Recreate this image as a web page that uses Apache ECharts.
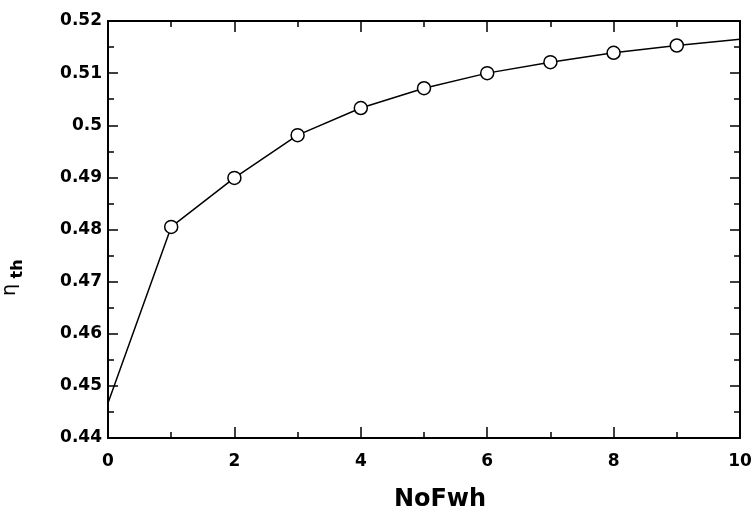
<!DOCTYPE html>
<html>
<head>
<meta charset="utf-8">
<script src="https://cdn.jsdelivr.net/npm/echarts@6/dist/echarts.min.js"></script>
<style>html,body{margin:0;padding:0;background:#fff}#c{width:755px;height:518px}</style>
</head>
<body>
<div id="c"></div>
<script>
const xValues = [0, 1, 2, 3, 4, 5, 6, 7, 8, 9, 10];
const etaValues = [0.4467, 0.4805, 0.4899, 0.4981, 0.5033, 0.5071, 0.5100, 0.5121, 0.5139, 0.5153, 0.5165];
const xTitle = 'NoFwh';
const yTitleMain = 'η';
const yTitleSub = 'th';

const chart = echarts.init(document.getElementById('c'), null, {renderer: 'canvas'});
const FONT = '"DejaVu Sans", sans-serif';
const axisLine = {show: true, onZero: false, lineStyle: {color: '#000', width: 2}};
const baseX = {
  type: 'value', min: 0, max: 10, interval: 2,
  axisLine: axisLine,
  axisTick: {show: true, inside: true, length: 11, lineStyle: {color: '#000', width: 1.5}},
  minorTick: {show: true, splitNumber: 2, length: 6, lineStyle: {color: '#000', width: 1.5}},
  splitLine: {show: false},
  minorSplitLine: {show: false}
};
const baseY = {
  type: 'value', min: 0.44, max: 0.52, interval: 0.01,
  axisLine: axisLine,
  axisTick: {show: true, inside: true, length: 10, lineStyle: {color: '#000', width: 1.5}},
  minorTick: {show: true, splitNumber: 2, length: 6, lineStyle: {color: '#000', width: 1.5}},
  splitLine: {show: false},
  minorSplitLine: {show: false}
};
const lastIdx = xValues.length - 1;
chart.setOption({
  animation: false,
  backgroundColor: '#fff',
  grid: {left: 108, top: 21, right: 15, bottom: 80, containLabel: false},
  xAxis: [
    Object.assign({}, baseX, {
      position: 'bottom',
      axisLabel: {show: true, color: '#000', fontFamily: FONT, fontWeight: 'bold', fontSize: 17, margin: 15},
      name: xTitle, nameLocation: 'middle', nameGap: 62,
      nameTextStyle: {color: '#000', fontFamily: FONT, fontWeight: 'bold', fontSize: 24, verticalAlign: 'middle', padding: [0, 0, 0, 32]}
    }),
    Object.assign({}, baseX, {position: 'top', axisLabel: {show: false}})
  ],
  yAxis: [
    Object.assign({}, baseY, {
      position: 'left',
      axisLabel: {show: true, color: '#000', fontFamily: FONT, fontWeight: 'bold', fontSize: 17, margin: 6,
        formatter: v => String(+v.toFixed(2))}
    }),
    Object.assign({}, baseY, {position: 'right', axisLabel: {show: false}})
  ],
  graphic: [
    {type: 'text', x: 10, y: 290, rotation: Math.PI / 2,
      style: {text: yTitleMain, fill: '#000', font: 'normal 19px ' + FONT, align: 'center', verticalAlign: 'middle'}},
    {type: 'text', x: 18, y: 269, rotation: Math.PI / 2,
      style: {text: yTitleSub, fill: '#000', font: 'bold 16px ' + FONT, align: 'center', verticalAlign: 'middle'}}
  ],
  series: [{
    type: 'line',
    xAxisIndex: 0, yAxisIndex: 0,
    data: xValues.map((x, i) => [x, etaValues[i]]),
    symbol: 'circle',
    symbolSize: (v, p) => (p.dataIndex === 0 || p.dataIndex === lastIdx) ? 0 : 13,
    showAllSymbol: true,
    lineStyle: {color: '#000', width: 1.5},
    itemStyle: {color: '#fff', borderColor: '#000', borderWidth: 1.5},
    emphasis: {disabled: true},
    z: 3
  }]
});
</script>
</body>
</html>
